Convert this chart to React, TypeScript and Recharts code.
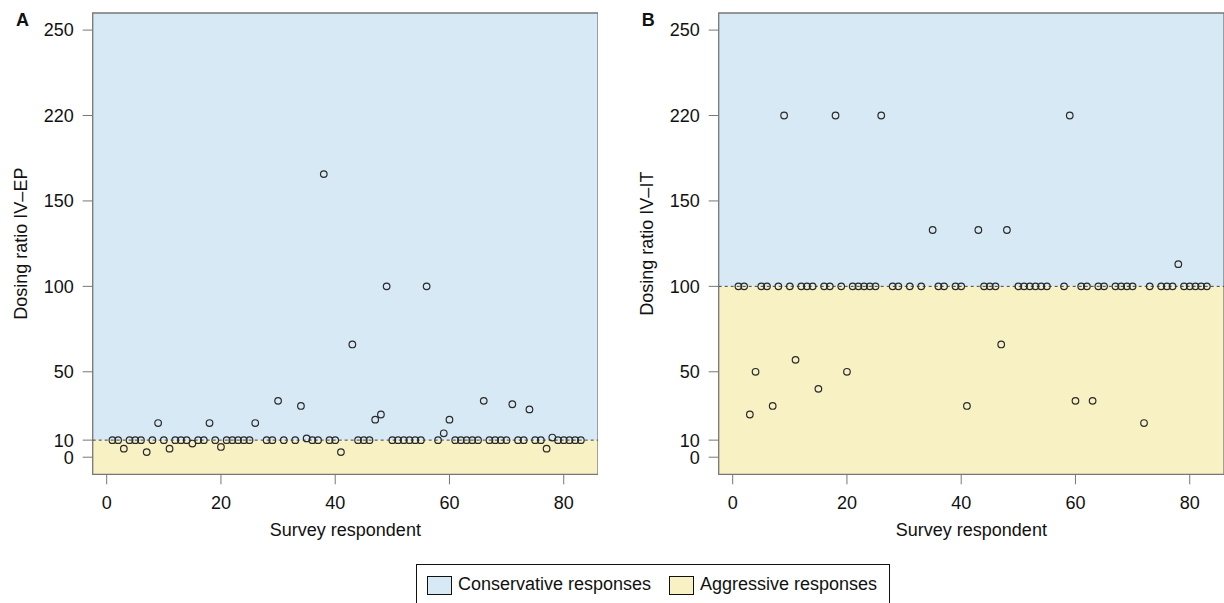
import {
  ScatterChart,
  Scatter,
  XAxis,
  YAxis,
  ReferenceArea,
  ReferenceLine,
} from "recharts";

// one value per survey respondent (1..83), null = no answer
const ratioEP: (number | null)[] = [
  10, 10, 5, 10, 10, 10, 3, 10, 20, 10,
  5, 10, 10, 10, 8, 10, 10, 20, 10, 6,
  10, 10, 10, 10, 10, 20, null, 10, 10, 33,
  10, null, 10, 30, 11, 10, 10, 172, 10, 10,
  3, null, 66, 10, 10, 10, 22, 25, 100, 10,
  10, 10, 10, 10, 10, 100, null, 10, 14, 22,
  10, 10, 10, 10, 10, 33, 10, 10, 10, 10,
  31, 10, 10, 28, 10, 10, 5, 11.5, 10, 10,
  10, 10, 10,
];

const ratioIT: (number | null)[] = [
  100, 100, 25, 50, 100, 100, 30, 100, 220, 100,
  57, 100, 100, 100, 40, 100, 100, 220, 100, 50,
  100, 100, 100, 100, 100, 220, null, 100, 100, null,
  100, null, 100, null, 133, 100, 100, null, 100, 100,
  30, null, 133, 100, 100, 100, 66, 133, null, 100,
  100, 100, 100, 100, 100, null, null, 100, 220, 33,
  100, 100, 33, 100, 100, null, 100, 100, 100, 100,
  null, 20, 100, null, 100, 100, 100, 113, 100, 100,
  100, 100, 100,
];

const yTickLabels = [0, 10, 50, 100, 150, 220, 250];
const xTicks = [0, 20, 40, 60, 80];
const thresholdEP = 10;
const thresholdIT = 100;

const X_DOMAIN: [number, number] = [-2.45, 86];
const Y_DOMAIN: [number, number] = [-10, 260];

const BLUE = "#D6E9F4";
const YELLOW = "#F8F1C3";
const FONT = '"Liberation Sans", Arial, Helvetica, sans-serif';

// the axis is squeezed above 150: 150-220 and 220-250 get the height of 50 units each
function toAxis(v: number) {
  if (v <= 150) return v;
  if (v <= 220) return 150 + ((v - 150) * 50) / 70;
  return 200 + ((v - 220) * 50) / 30;
}

function fromAxis(p: number) {
  if (p <= 150) return p;
  if (p <= 200) return 150 + ((p - 150) * 70) / 50;
  return 220 + ((p - 200) * 30) / 50;
}

const OpenCircle = (props: any) => (
  <circle
    cx={props.cx}
    cy={props.cy}
    r={3.3}
    fill="none"
    stroke="#2a2a2a"
    strokeWidth={1.2}
  />
);

interface PanelProps {
  values: (number | null)[];
  threshold: number;
  yLabel: string;
}

function Panel({ values, threshold, yLabel }: PanelProps) {
  const data = values
    .map((v, i) => (v == null ? null : { respondent: i + 1, pos: toAxis(v) }))
    .filter((d) => d !== null);
  const cut = toAxis(threshold);

  return (
    <ScatterChart
      width={598}
      height={603}
      margin={{ top: 13, right: 0, bottom: 62.7, left: 0 }}
    >
      <XAxis
        type="number"
        dataKey="respondent"
        domain={X_DOMAIN}
        ticks={xTicks}
        interval={0}
        allowDataOverflow
        axisLine={false}
        tickSize={10}
        tickMargin={12}
        tickLine={{ stroke: "#777" }}
        tick={{ fill: "#111", fontSize: 18 }}
        height={66}
        label={{
          value: "Survey respondent",
          position: "insideBottom",
          offset: 4,
          style: { fill: "#111", fontSize: 18 },
        }}
      />
      <YAxis
        type="number"
        dataKey="pos"
        domain={Y_DOMAIN}
        ticks={yTickLabels.map(toAxis)}
        interval={0}
        tickFormatter={(p: number) => `${Math.round(fromAxis(p))}`}
        allowDataOverflow
        axisLine={false}
        width={92.7}
        tickSize={10}
        tickMargin={9}
        tickLine={{ stroke: "#777" }}
        tick={{ fill: "#111", fontSize: 18 }}
        label={{
          value: yLabel,
          angle: -90,
          position: "insideLeft",
          offset: 21,
          style: { textAnchor: "middle", fill: "#111", fontSize: 18 },
        }}
      />
      <ReferenceArea
        x1={X_DOMAIN[0]}
        x2={X_DOMAIN[1]}
        y1={Y_DOMAIN[0]}
        y2={cut}
        fill={YELLOW}
        fillOpacity={1}
        stroke="none"
      />
      <ReferenceArea
        x1={X_DOMAIN[0]}
        x2={X_DOMAIN[1]}
        y1={cut}
        y2={Y_DOMAIN[1]}
        fill={BLUE}
        fillOpacity={1}
        stroke="none"
      />
      <ReferenceLine y={cut} stroke="#444" strokeDasharray="3 3" />
      <ReferenceArea
        x1={X_DOMAIN[0]}
        x2={X_DOMAIN[1]}
        y1={Y_DOMAIN[0]}
        y2={Y_DOMAIN[1]}
        fill="none"
        stroke="#777"
        strokeWidth={1.3}
      />
      <Scatter data={data} isAnimationActive={false} shape={OpenCircle} />
    </ScatterChart>
  );
}

function LegendKey({ left, color, text }: { left: number; color: string; text: string }) {
  return (
    <>
      <div
        style={{
          position: "absolute",
          left,
          top: 10.5,
          width: 23,
          height: 17,
          background: color,
          border: "1px solid #111",
        }}
      />
      <div
        style={{
          position: "absolute",
          left: left + 31,
          top: 7,
          fontSize: 18,
          lineHeight: "24px",
          color: "#111",
          whiteSpace: "nowrap",
        }}
      >
        {text}
      </div>
    </>
  );
}

export default function App() {
  return (
    <div
      style={{
        position: "absolute",
        left: 0,
        top: 0,
        width: 1224,
        height: 603,
        overflow: "hidden",
        background: "#fff",
        fontFamily: FONT,
      }}
    >
      <div style={{ position: "absolute", left: 0, top: 0 }}>
        <Panel values={ratioEP} threshold={thresholdEP} yLabel="Dosing ratio IV–EP" />
      </div>
      <div style={{ position: "absolute", left: 625.8, top: 0 }}>
        <Panel values={ratioIT} threshold={thresholdIT} yLabel="Dosing ratio IV–IT" />
      </div>
      <svg
        width={1224}
        height={603}
        style={{ position: "absolute", left: 0, top: 0, pointerEvents: "none" }}
      >
        <text x={16} y={26} fontSize={18} fontWeight="bold" fill="#111" fontFamily={FONT}>
          A
        </text>
        <text x={641.8} y={26} fontSize={18} fontWeight="bold" fill="#111" fontFamily={FONT}>
          B
        </text>
      </svg>
      <div
        style={{
          position: "absolute",
          left: 416,
          top: 564,
          width: 474,
          height: 40,
          border: "1px solid #111",
          boxSizing: "border-box",
          background: "#fff",
        }}
      >
        <LegendKey left={10} color={BLUE} text="Conservative responses" />
        <LegendKey left={252} color={YELLOW} text="Aggressive responses" />
      </div>
    </div>
  );
}
